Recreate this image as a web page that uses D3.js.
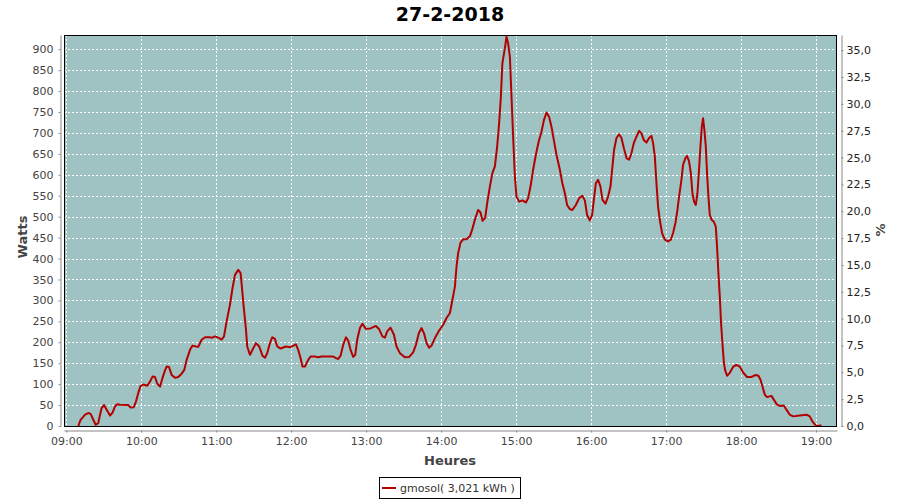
<!DOCTYPE html>
<html>
<head>
<meta charset="utf-8">
<script src="https://cdn.jsdelivr.net/npm/d3@7/dist/d3.min.js"></script>
<style>
  html, body { margin: 0; padding: 0; background: #fff; }
  svg { display: block; }
  text { font-family: "DejaVu Sans", sans-serif; }
</style>
</head>
<body>
<svg id="chart" width="900" height="500"></svg>
<script>
// ---- Data ----
const title = "27-2-2018";
const startLabel = "09:00";
// minutes after 09:00
const minutes = [
  9.6, 11.5, 13, 15, 17.6, 19.5, 21.6, 23.5, 25.6, 27, 28.3, 30.2, 32.3, 35, 37, 39, 40.8, 43, 49.6, 51.5,
  54, 55.8, 57.6, 59.5, 61.6, 64.8, 67, 69, 71, 72.8, 75, 77, 79, 80.3, 82.2, 84.3, 87, 89.6, 92.3, 94.4,
  96.3, 99, 101, 103.8, 105.6, 108.3, 111, 114.4, 117, 119, 122.4, 124.3, 126.2, 128.3, 131, 133, 135, 137.6, 139.5, 141,
  142.2, 143.8, 144.8, 147, 149, 151.8, 154.4, 157, 159, 160.8, 163, 164.8, 167, 168.8, 171.5, 175.8, 179, 183.8, 185.6, 187.5,
  189, 191, 193.6, 195.5, 199, 201.6, 204.3, 213.6, 215.8, 217.6, 219.5, 221.6, 223.8, 225.6, 227.5, 229.6, 231.2, 232.8, 235, 237,
  239.8, 243.5, 247.8, 250.4, 253, 255, 256.8, 259.5, 262.2, 264.3, 267, 271, 274.4, 277.6, 279.8, 282.2, 284.3, 286.2, 288.3, 290.4,
  292.3, 295, 298.4, 301.6, 304.3, 307, 309, 311, 312.3, 313.6, 315.5, 317.6, 320.3, 323, 324.8, 327, 329.6, 331.5, 333.1, 335.2,
  336.8, 339, 341, 343, 344.8, 346.4, 347.8, 349, 351, 352.3, 353.6, 355, 356.3, 357.6, 359, 360.3, 362.4, 365, 367.8, 369.6,
  371.5, 373.6, 375.8, 378, 380.3, 382.2, 384.3, 386.4, 388.3, 390.2, 392.3, 395, 397, 399, 400.8, 403, 405, 407.8, 410.4, 413,
  415, 416.8, 419, 420.8, 422.2, 423.8, 425.6, 427.5, 429.1, 431.5, 433.6, 435.5, 437.1, 438.4, 440.3, 442.4, 444.3, 446.2, 448.3, 450.4,
  452.3, 454.2, 456.3, 458.4, 460.3, 462.2, 464.3, 466.4, 468.3, 469.6, 471, 472.3, 473.6, 475, 476.8, 479, 481.6, 483.8, 485.6, 487.5,
  489.1, 490.4, 492.3, 493.6, 495.5, 496.8, 498.4, 499.8, 501.1, 502.4, 503.8, 505.1, 506.2, 507.5, 508.6, 509.6, 510.7, 511.8, 512.8, 513.9,
  515, 516.6, 518.2, 519.8, 520.8, 521.9, 523, 524, 525.1, 526.2, 527.2, 528.8, 531, 533.6, 536.3, 539, 541.6, 544.8, 548.3, 551.8,
  553.9, 555.5, 557.1, 559, 560.8, 564.3, 566.2, 568.8, 571, 574.2, 576.3, 579, 581.6, 587, 592.3, 595, 597.1, 599.8, 602.4, 604.3
];
// power in watts
const watts = [
  0, 15, 20, 27, 31, 29, 15, 3, 7, 27, 43, 50, 39, 25, 32, 47, 52, 51, 50, 44,
  45, 59, 79, 96, 99, 96, 106, 118, 117, 101, 94, 115, 133, 142, 141, 122, 115, 117, 125, 134,
  158, 182, 192, 190, 189, 206, 212, 212, 211, 214, 210, 206, 214, 250, 290, 329, 361, 373, 365, 317,
  278, 230, 190, 170, 182, 198, 190, 168, 163, 174, 198, 212, 208, 190, 185, 190, 188, 195, 182, 162,
  142, 142, 158, 166, 166, 164, 166, 166, 162, 160, 168, 194, 212, 204, 182, 165, 170, 206, 234, 244,
  232, 233, 239, 231, 214, 211, 226, 235, 218, 190, 174, 164, 165, 176, 194, 222, 234, 222, 198, 187,
  192, 210, 228, 242, 258, 270, 301, 333, 381, 413, 438, 446, 446, 453, 469, 493, 516, 510, 490, 497,
  532, 572, 604, 620, 667, 723, 787, 867, 902, 930, 914, 882, 787, 691, 596, 548, 536, 539, 534, 544,
  572, 612, 648, 679, 703, 730, 749, 738, 715, 683, 648, 612, 580, 556, 528, 518, 516, 528, 544, 550,
  539, 504, 491, 504, 540, 580, 588, 572, 540, 531, 548, 572, 620, 660, 688, 697, 688, 664, 640, 636,
  652, 676, 691, 705, 699, 683, 677, 688, 693, 676, 644, 580, 524, 492, 461, 445, 441, 445, 461, 485,
  516, 548, 588, 624, 640, 645, 632, 604, 556, 536, 528, 556, 604, 667, 715, 735, 707, 667, 604, 548,
  504, 492, 488, 476, 429, 365, 309, 246, 198, 154, 134, 120, 127, 141, 146, 142, 128, 117, 117, 122,
  120, 111, 95, 75, 69, 72, 63, 51, 48, 49, 39, 27, 23, 25, 27, 23, 11, 1, 0, 2
];
const seriesName = "gmosol( 3,021 kWh )";
const xTickMinutes = [0, 60, 120, 180, 240, 300, 360, 420, 480, 540, 600];
const xTickLabels = ["09:00", "10:00", "11:00", "12:00", "13:00", "14:00", "15:00", "16:00", "17:00", "18:00", "19:00"];
const leftTicks = [0, 50, 100, 150, 200, 250, 300, 350, 400, 450, 500, 550, 600, 650, 700, 750, 800, 850, 900];
const rightTicks = [0, 2.5, 5, 7.5, 10, 12.5, 15, 17.5, 20, 22.5, 25, 27.5, 30, 32.5, 35];
const wattsMax = 934;          // top of the left axis
const wattsPerPercent = 25.65; // left/right axis relation

// ---- Layout ----
const plot = { left: 64, right: 837, top: 35, bottom: 426 };
const svg = d3.select("#chart");

const x = d3.scaleLinear().domain([-1.84, 616.8]).range([plot.left, plot.right]);
const y = d3.scaleLinear().domain([0, wattsMax]).range([plot.bottom, plot.top]);
const yR = d3.scaleLinear().domain([0, wattsMax / wattsPerPercent]).range([plot.bottom, plot.top]);

const data = minutes.map((m, i) => ({ t: m, w: watts[i] }));

// title
svg.append("text").attr("x", 450).attr("y", 21).attr("text-anchor", "middle")
  .style("font-size", "19px").style("font-weight", "bold").attr("fill", "#000").text(title);

// plot background
svg.append("rect").attr("x", plot.left).attr("y", plot.top)
  .attr("width", plot.right - plot.left).attr("height", plot.bottom - plot.top)
  .attr("fill", "#9ec3c2");

// gridlines
const grid = svg.append("g").attr("stroke", "#fff").attr("stroke-width", 1).attr("stroke-dasharray", "2,2");
leftTicks.filter(v => v > 0).forEach(v => {
  const yy = Math.round(y(v)) + 0.5;
  grid.append("line").attr("x1", plot.left).attr("x2", plot.right).attr("y1", yy).attr("y2", yy);
});
xTickMinutes.forEach(m => {
  const xx = Math.round(x(m)) + 0.5;
  grid.append("line").attr("x1", xx).attr("x2", xx).attr("y1", plot.top).attr("y2", plot.bottom);
});

// clip + line
svg.append("clipPath").attr("id", "clip").append("rect")
  .attr("x", plot.left).attr("y", plot.top).attr("width", plot.right - plot.left).attr("height", plot.bottom - plot.top);
const line = d3.line().x(d => x(d.t)).y(d => y(d.w));
svg.append("path").datum(data).attr("clip-path", "url(#clip)")
  .attr("d", line).attr("fill", "none").attr("stroke", "#b30000").attr("stroke-width", 2)
  .attr("stroke-linejoin", "round");

// plot border
svg.append("rect").attr("x", plot.left + 0.5).attr("y", plot.top + 0.5)
  .attr("width", plot.right - plot.left - 1).attr("height", plot.bottom - plot.top)
  .attr("fill", "none").attr("stroke", "#000").attr("stroke-width", 1);

function styleAxis(g, color) {
  g.select(".domain").attr("stroke", "#888");
  g.selectAll(".tick line").attr("stroke", "#888");
  g.selectAll(".tick text").style("font-size", "11px").style("font-family", "DejaVu Sans").attr("fill", color);
}

// left axis
const gL = svg.append("g").attr("transform", "translate(60.5,0)")
  .call(d3.axisLeft(y).tickValues(leftTicks).tickSize(2).tickSizeOuter(0).tickPadding(5).tickFormat(d3.format("d")));
styleAxis(gL, "#444");

// bottom axis
const gB = svg.append("g").attr("transform", "translate(0,430.5)")
  .call(d3.axisBottom(x).tickValues(xTickMinutes).tickSize(2).tickSizeOuter(0).tickPadding(5)
    .tickFormat((d, i) => xTickLabels[i]));
styleAxis(gB, "#444");

// right axis
const gR = svg.append("g").attr("transform", "translate(841.5,0)")
  .call(d3.axisRight(yR).tickValues(rightTicks).tickSize(2).tickSizeOuter(0).tickPadding(3)
    .tickFormat(d => d3.format(".1f")(d).replace(".", ",")));
styleAxis(gR, "#222");

// axis titles
svg.append("text").attr("transform", "translate(27,237) rotate(-90)").attr("text-anchor", "middle")
  .style("font-size", "13px").style("font-weight", "bold").attr("fill", "#444").text("Watts");
svg.append("text").attr("transform", "translate(885,230) rotate(-90)").attr("text-anchor", "middle")
  .style("font-size", "13px").style("font-weight", "bold").attr("fill", "#444").text("%");
svg.append("text").attr("x", 450).attr("y", 465).attr("text-anchor", "middle")
  .style("font-size", "13px").style("font-weight", "bold").attr("fill", "#444").text("Heures");

// legend
const lg = svg.append("g");
lg.append("rect").attr("x", 379.5).attr("y", 477.5).attr("width", 141).attr("height", 21)
  .attr("fill", "#fff").attr("stroke", "#000");
lg.append("line").attr("x1", 382).attr("x2", 396).attr("y1", 488).attr("y2", 488)
  .attr("stroke", "#b30000").attr("stroke-width", 2);
lg.append("text").attr("x", 400).attr("y", 492).style("font-size", "11px").attr("fill", "#333").text(seriesName);
</script>
</body>
</html>
